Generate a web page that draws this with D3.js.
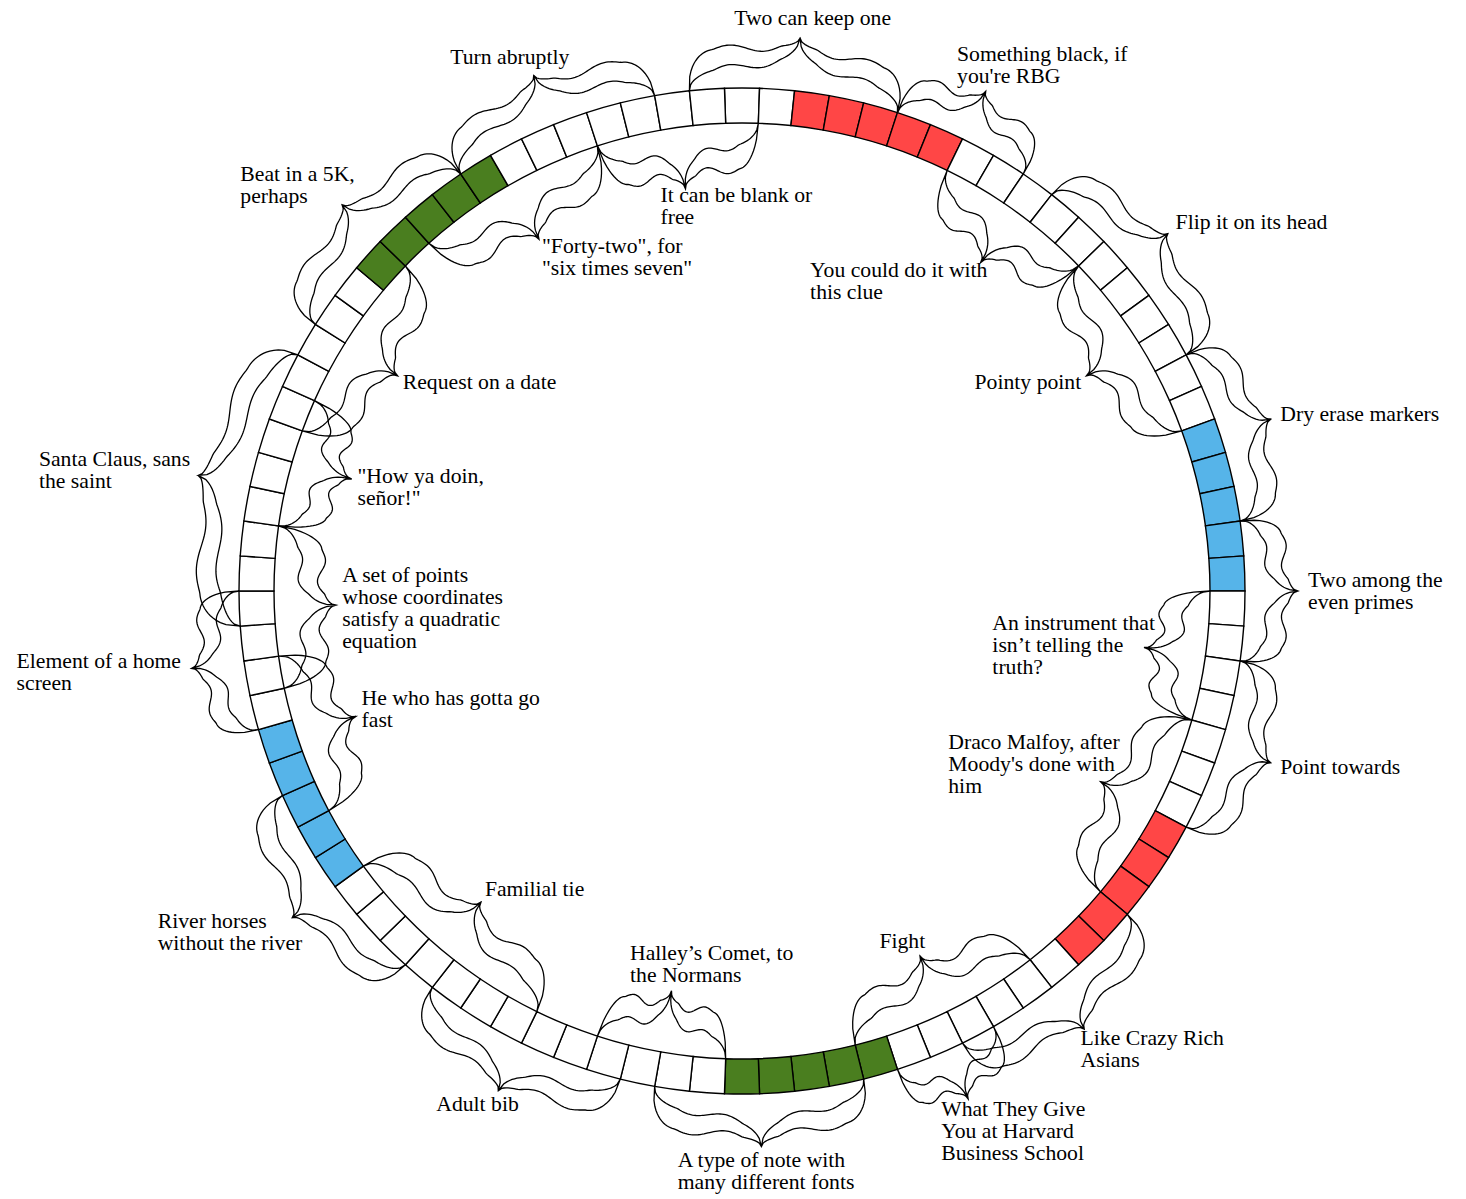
<!DOCTYPE html>
<html>
<head>
<meta charset="utf-8">
<script src="https://cdn.jsdelivr.net/npm/d3@7"></script>
<style>
  body { margin: 0; background: #fff; }
  svg text { font-family: "Liberation Serif", "Times New Roman", serif; font-size: 21.7px; fill: #000; }
</style>
</head>
<body>
<svg id="chart" width="1466" height="1199"></svg>
<script>
// ring of answer cells, cell k centred on k * 4 degrees clockwise from the top
const cellCount = 90;

// shaded runs of cells
const highlightFirst = [2, 18, 30, 41, 59, 78];
const highlightLen = [5, 5, 5, 5, 5, 5];
const highlightGroup = ['red', 'blue', 'red', 'green', 'blue', 'green'];

// clues: text, which side of the ring, first cell, number of cells
const clueText = [
  'Two can keep one',
  "Something black, if\nyou're RBG",
  'Flip it on its head',
  'Dry erase markers',
  'Two among the\neven primes',
  'Point towards',
  'Like Crazy Rich\nAsians',
  'What They Give\nYou at Harvard\nBusiness School',
  'A type of note with\nmany different fonts',
  'Adult bib',
  'River horses\nwithout the river',
  'Element of a home\nscreen',
  'Santa Claus, sans\nthe saint',
  'Beat in a 5K,\nperhaps',
  'Turn abruptly',
  'It can be blank or\nfree',
  'You could do it with\nthis clue',
  'Pointy point',
  'An instrument that\nisn\u2019t telling the\ntruth?',
  "Draco Malfoy, after\nMoody's done with\nhim",
  'Fight',
  'Halley\u2019s Comet, to\nthe Normans',
  'Familial tie',
  'He who has gotta go\nfast',
  'A set of points\nwhose coordinates\nsatisfy a quadratic\nequation',
  '"How ya doin,\nse\u00f1or!"',
  'Request on a date',
  '"Forty-two", for\n"six times seven"'
];
const clueSide = [
  'outer', 'outer', 'outer', 'outer', 'outer', 'outer', 'outer', 'outer',
  'outer', 'outer', 'outer', 'outer', 'outer', 'outer', 'outer',
  'inner', 'inner', 'inner', 'inner', 'inner', 'inner', 'inner',
  'inner', 'inner', 'inner', 'inner', 'inner', 'inner'
];
const clueFirst = [89, 5, 10, 16, 21, 25, 33, 38, 42, 49, 56, 64, 67, 76, 82,
  86, 7, 12, 23, 27, 36, 46, 52, 61, 65, 70, 73, 80];
const clueLen = [6, 4, 6, 5, 4, 5, 6, 3, 6, 6, 6, 4, 8, 6, 6,
  5, 5, 6, 4, 6, 6, 4, 7, 5, 5, 4, 6, 6];

const cx = 742;
const cy = 591;
const rOuter = 503;
const rInner = 468;
const braceOut = 53;
const braceIn = 62;
const lineH = 22;

const svg = d3.select('#chart');
const root = svg.append('g').attr('transform', `translate(${cx},${cy})`);

const angle = d3.scaleLinear().domain([0, cellCount]).range([0, 2 * Math.PI]);
const colour = d3.scaleOrdinal()
  .domain(['red', 'blue', 'green'])
  .range(['#ff4646', '#56b4e9', '#4a7e1f']);

const cells = d3.range(cellCount).map(k => {
  const h = highlightFirst.findIndex((f, i) => k >= f && k < f + highlightLen[i]);
  return { k, group: h < 0 ? null : highlightGroup[h] };
});

const arc = d3.arc()
  .innerRadius(rInner)
  .outerRadius(rOuter)
  .startAngle(d => angle(d.k - 0.5))
  .endAngle(d => angle(d.k + 0.5));

root.append('g').selectAll('path')
  .data(cells)
  .enter().append('path')
  .attr('d', arc)
  .attr('fill', d => d.group ? colour(d.group) : '#fff')
  .attr('stroke', '#000')
  .attr('stroke-width', 1.4);

// brace profile, s = 0 at the ring end, s = 1 at the tip
function quarter(s, span) {
  const t = Math.min(s / span, 1);
  return Math.sqrt(1 - (1 - t) * (1 - t));
}
function tipRise(s) {
  return 1 - Math.sqrt(Math.max(0, 1 - Math.pow(s, 4)));
}
function wave(s) {
  if (s < 0.24 || s > 0.84) return 0;
  return 0.07 * Math.sin(2 * Math.PI * (s - 0.24) / 0.6);
}
const outerLine = s => 0.74 * quarter(s, 0.25) + 0.26 * tipRise(s) + wave(s);
const innerLine = s => 0.38 * quarter(s, 0.4) + 0.62 * tipRise(s) + 0.8 * wave(s);

function polar(a, r) {
  return [r * Math.sin(a), -r * Math.cos(a)];
}

function bracePoints(a0, a1, side) {
  const mid = (a0 + a1) / 2;
  const base = side === 'outer' ? rOuter : rInner;
  const sign = side === 'outer' ? 1 : -1;
  const w = side === 'outer' ? braceOut : braceIn;
  const steps = d3.range(0, 1.0001, 1 / 60);
  const half = (end, f) => steps.map(s => polar(end + s * (mid - end), base + sign * w * f(s)));
  const upA = half(a0, outerLine);
  const upB = half(a1, outerLine).reverse();
  const loB = half(a1, innerLine);
  const loA = half(a0, innerLine).reverse();
  return upA.concat(upB, loB, loA);
}

const clues = clueText.map((text, i) => {
  const a0 = angle(clueFirst[i] - 0.5);
  const a1 = angle(clueFirst[i] + clueLen[i] - 0.5);
  return { text, side: clueSide[i], a0, a1, mid: (a0 + a1) / 2 };
});

const line = d3.line().curve(d3.curveLinearClosed);

root.append('g').selectAll('path')
  .data(clues)
  .enter().append('path')
  .attr('d', d => line(bracePoints(d.a0, d.a1, d.side)))
  .attr('fill', 'none')
  .attr('stroke', '#000')
  .attr('stroke-width', 1.3);

// labels sit just beyond the tip, on the side the brace points to
const clamp = v => Math.max(0, Math.min(1, v));

function labelFractions(outward, sx, c, nLines) {
  if (outward) {
    const fx = sx > 0 ? 0.5 - 0.7 * sx : 0.5 - 0.45 * sx;
    return [clamp(fx), clamp(0.5 + 0.45 * c)];
  }
  const fx = sx > 0
    ? 0.34 + 0.06 * c - 0.8 * sx
    : 0.5 - (nLines > 2 ? 0.4 : 0.75) * sx;
  return [clamp(fx), clamp(0.45 + 0.6 * c)];
}

const labels = root.append('g').selectAll('text')
  .data(clues)
  .enter().append('text');

labels.each(function (d) {
  const t = d3.select(this);
  const lines = d.text.split('\n');
  lines.forEach((ln, i) => {
    t.append('tspan').attr('x', 0).attr('dy', i ? lineH : 0).text(ln);
  });
  const outward = d.side === 'outer';
  const tipR = outward ? rOuter + braceOut : rInner - braceIn;
  const [tx, ty] = polar(d.mid, tipR);
  const sx = outward ? Math.sin(d.mid) : -Math.sin(d.mid);
  const c = outward ? Math.cos(d.mid) : -Math.cos(d.mid);
  const sideGap = outward && sx < 0 ? 15 * Math.pow(1 - Math.abs(c), 3) : 0;
  const padX = (outward ? 10 : 6) + sideGap;
  const padY = outward ? 4 + 5 * Math.max(0, c) : 4;
  const lift = outward ? 0 : 10 * Math.max(0, -c);
  const px = tx + padX * sx;
  const py = ty - padY * c - lift;
  const [fx, fy] = labelFractions(outward, sx, c, lines.length);
  const bb = this.getBBox();
  t.attr('transform', `translate(${px - fx * bb.width - bb.x},${py - fy * bb.height - bb.y})`);
});
</script>
</body>
</html>
